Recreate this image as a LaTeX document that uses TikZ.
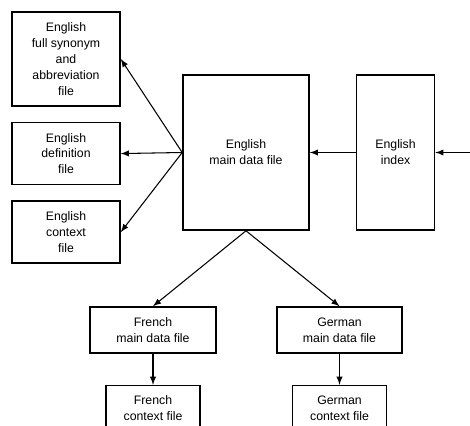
\documentclass[tikz,border=0pt]{standalone}
\usepackage{fontspec}
\setmainfont{Liberation Sans}
\usepackage{tikz}
\usetikzlibrary{shapes,arrows,positioning}

\begin{document}
\begin{tikzpicture}[x=0.02cm, y=-0.02cm, font=\fontsize{7}{9}\selectfont, >=latex,
    filebox/.style={rectangle, draw, line width=0.9pt, align=center, inner sep=2pt},
    link/.style={->, line width=0.6pt}]
        \useasboundingbox (0,0) rectangle (470,426);

        \node[filebox, minimum width=2.52cm, minimum height=3.1cm] (main) at (246,152.5) {English\\main data file};

        \node[filebox, minimum width=1.56cm, minimum height=3.1cm, right=0.92cm of main] (index) {English\\index};

        \node[filebox, minimum width=2.16cm, minimum height=1.88cm] (syn) at (66,59) {English\\full synonym\\and\\abbreviation\\file};

        \node[filebox, minimum width=2.16cm, minimum height=1.24cm, below=0.3cm of syn] (def) {English\\definition\\file};

        \node[filebox, minimum width=2.16cm, minimum height=1.24cm, below=0.3cm of def] (ctx) {English\\context\\file};

        \node[filebox, minimum width=2.52cm, minimum height=0.92cm] (frmain) at (153,330) {French\\main data file};

        \node[filebox, minimum width=2.5cm, minimum height=0.92cm] (demain) at (339.5,330) {German\\main data file};

        \node[filebox, minimum width=1.88cm, minimum height=0.9cm, below=0.62cm of frmain] (frctx) {French\\context file};

        \node[filebox, minimum width=1.88cm, minimum height=0.9cm, below=0.62cm of demain] (dectx) {German\\context file};

        \coordinate (feed) at (470,152.5);

        % index lookups
        \draw[link] (feed) -- (index.east);
        \draw[link] (index.west) -- (main.east);

        % English side files
        \draw[link] (main.west) -- (syn.east);
        \draw[link] (main.west) -- (def.east);
        \draw[link] (main.west) -- (ctx.east);

        % other languages
        \draw[link] (main.south) -- (frmain.north);
        \draw[link] (main.south) -- (demain.north);
        \draw[link] (frmain.south) -- (frctx.north);
        \draw[link] (demain.south) -- (dectx.north);
      \end{tikzpicture}
\end{document}
